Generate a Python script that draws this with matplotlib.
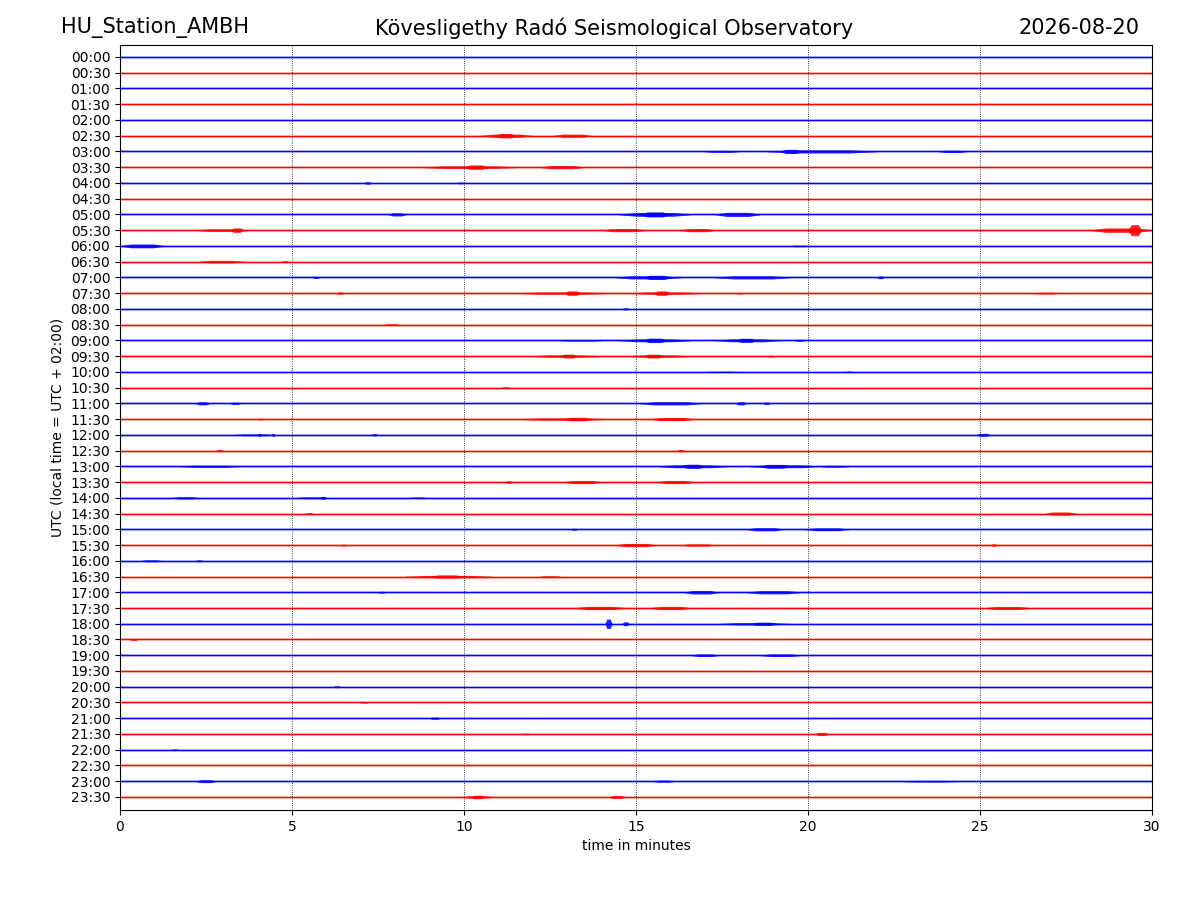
import numpy as np
import matplotlib
matplotlib.use("Agg")
import matplotlib.pyplot as plt

# one row per half hour, 00:00 .. 23:30
row_labels = ["%02d:%02d" % (h, m) for h in range(24) for m in (0, 30)]
row_colors = ["blue", "red"] * 24

# bursts: (row, start minute, end minute, half amplitude in row units)
bursts = [
    (5, 10.5, 12.0, 0.10), (5, 10.9, 11.5, 0.14), (5, 12.6, 13.7, 0.10),
    (6, 17.0, 18.0, 0.06), (6, 18.8, 22.0, 0.10), (6, 19.2, 19.8, 0.13), (6, 23.8, 24.6, 0.07),
    (7, 8.7, 11.6, 0.08), (7, 10.0, 10.7, 0.14), (7, 12.2, 13.5, 0.10),
    (8, 7.1, 7.3, 0.08), (8, 9.8, 10.0, 0.05),
    (10, 7.8, 8.3, 0.10), (10, 14.5, 16.6, 0.12), (10, 15.1, 16.0, 0.16), (10, 17.3, 18.6, 0.13),
    (11, 2.2, 3.8, 0.08), (11, 3.2, 3.6, 0.14), (11, 14.0, 15.3, 0.10), (11, 16.3, 17.3, 0.10),
    (11, 28.2, 30.0, 0.14), (11, 29.3, 29.7, 0.35),
    (12, 0.0, 1.3, 0.12), (12, 19.5, 20.0, 0.05),
    (13, 2.3, 3.6, 0.08), (13, 4.7, 4.9, 0.06),
    (14, 5.6, 5.8, 0.07), (14, 14.4, 16.3, 0.10), (14, 15.2, 16.0, 0.13), (14, 17.3, 19.5, 0.10),
    (14, 22.0, 22.2, 0.08),
    (15, 6.3, 6.5, 0.07), (15, 11.5, 14.2, 0.07), (15, 12.9, 13.4, 0.14), (15, 14.8, 16.9, 0.07),
    (15, 15.5, 16.0, 0.14), (15, 17.9, 18.1, 0.05), (15, 26.5, 27.3, 0.05),
    (16, 14.6, 14.8, 0.06),
    (17, 7.7, 8.1, 0.06),
    (18, 12.8, 14.0, 0.05), (18, 14.5, 16.6, 0.09), (18, 15.2, 15.9, 0.14), (18, 17.3, 19.2, 0.09),
    (18, 17.9, 18.5, 0.13), (18, 19.6, 19.9, 0.06),
    (19, 11.9, 14.0, 0.07), (19, 12.8, 13.3, 0.12), (19, 14.7, 16.6, 0.07), (19, 15.2, 15.8, 0.12),
    (19, 18.8, 19.0, 0.05),
    (20, 17.0, 18.0, 0.04), (20, 21.1, 21.3, 0.05),
    (21, 11.1, 11.3, 0.06),
    (22, 2.2, 2.6, 0.10), (22, 3.2, 3.5, 0.07), (22, 15.1, 16.9, 0.10), (22, 17.9, 18.2, 0.10),
    (22, 18.7, 18.9, 0.07),
    (23, 4.0, 4.2, 0.05), (23, 11.6, 14.2, 0.07), (23, 12.9, 13.7, 0.11), (23, 15.4, 16.7, 0.10),
    (24, 3.3, 4.5, 0.06), (24, 4.0, 4.1, 0.09), (24, 4.4, 4.5, 0.09), (24, 7.3, 7.5, 0.07),
    (24, 24.9, 25.3, 0.09),
    (25, 2.8, 3.0, 0.07), (25, 16.2, 16.4, 0.07),
    (26, 1.7, 3.5, 0.07), (26, 15.6, 17.7, 0.09), (26, 16.3, 17.0, 0.13), (26, 18.3, 20.3, 0.09),
    (26, 18.6, 19.5, 0.12), (26, 20.3, 21.2, 0.06),
    (27, 11.2, 11.4, 0.08), (27, 12.9, 14.0, 0.10), (27, 15.6, 16.7, 0.10),
    (28, 1.5, 2.3, 0.07), (28, 5.1, 6.0, 0.06), (28, 5.8, 6.0, 0.09), (28, 8.4, 8.9, 0.05),
    (29, 5.4, 5.6, 0.06), (29, 26.9, 27.8, 0.10),
    (30, 13.1, 13.3, 0.06), (30, 18.2, 19.3, 0.10), (30, 19.9, 21.2, 0.09),
    (31, 6.4, 6.6, 0.05), (31, 14.4, 15.6, 0.10), (31, 16.3, 17.3, 0.07), (31, 25.3, 25.5, 0.07),
    (32, 0.6, 1.2, 0.06), (32, 2.2, 2.4, 0.06),
    (33, 8.3, 10.8, 0.07), (33, 9.0, 10.0, 0.10), (33, 12.2, 12.8, 0.05),
    (34, 7.5, 7.7, 0.06), (34, 16.4, 17.4, 0.11), (34, 18.2, 19.8, 0.10),
    (35, 13.2, 14.7, 0.10), (35, 15.4, 16.6, 0.10), (35, 25.1, 26.5, 0.09),
    (36, 14.1, 14.3, 0.30), (36, 14.6, 14.8, 0.12), (36, 17.4, 19.5, 0.07), (36, 18.3, 19.1, 0.10),
    (37, 0.3, 0.5, 0.06),
    (38, 16.6, 17.4, 0.08), (38, 18.6, 19.8, 0.08),
    (40, 6.2, 6.4, 0.06),
    (41, 7.0, 7.2, 0.04),
    (42, 9.0, 9.3, 0.07),
    (43, 11.7, 11.9, 0.05), (43, 20.2, 20.6, 0.10),
    (44, 1.5, 1.7, 0.05),
    (46, 2.2, 2.8, 0.09), (46, 15.5, 16.1, 0.07), (46, 22.7, 24.4, 0.05),
    (47, 9.9, 10.9, 0.07), (47, 10.2, 10.6, 0.11), (47, 14.2, 14.7, 0.09),
]

fig = plt.figure(figsize=(12, 9), dpi=100)
ax = fig.add_axes([0.1, 0.1, 0.86, 0.85])

for i, c in enumerate(row_colors):
    ax.plot([0, 30], [i, i], color=c, lw=2.2, alpha=0.25, solid_capstyle="butt")
    ax.plot([0, 30], [i, i], color=c, lw=0.9, solid_capstyle="butt")

for row, t0, t1, amp in bursts:
    w = t1 - t0
    xs = [t0, t0 + 0.25 * w, t1 - 0.25 * w, t1]
    env = np.array([0.02, amp, amp, 0.02])
    ax.fill_between(xs, row - env, row + env, color=row_colors[row], alpha=0.85, lw=0)

for x in [5, 10, 15, 20, 25]:
    ax.axvline(x, color="black", ls=":", lw=0.6)

ax.set_xlim(0, 30)
ax.set_ylim(47.83, -0.76)
ax.set_xticks([0, 5, 10, 15, 20, 25, 30])
ax.set_yticks(range(len(row_labels)))
ax.set_yticklabels(row_labels)
ax.set_xlabel("time in minutes")
ax.set_ylabel("UTC (local time = UTC + 02:00)")

fig.text(0.051, 0.969, "HU_Station_AMBH", fontsize=15, ha="left", va="center")
fig.text(0.512, 0.969, "Kövesligethy Radó Seismological Observatory", fontsize=15, ha="center", va="center")
fig.text(0.95, 0.969, "2026-08-20", fontsize=15, ha="right", va="center")

fig.savefig("out.png", dpi=100)
